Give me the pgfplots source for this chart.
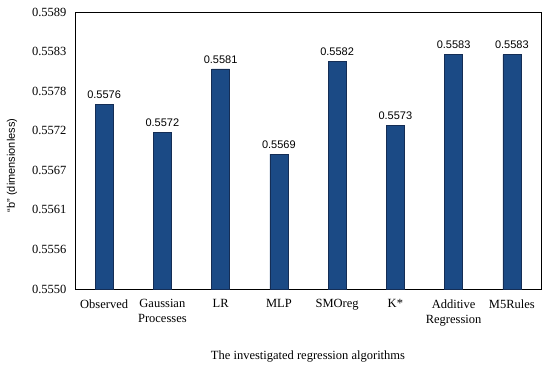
\documentclass[border=0pt]{standalone}
\usepackage{fontspec}
\setmainfont{Liberation Serif}
\newfontfamily\labfont{Liberation Sans}
\usepackage{pgfplots}
\pgfplotsset{compat=1.18}
\definecolor{barblue}{RGB}{27,74,133}
\definecolor{baredge}{RGB}{20,45,85}
\begin{document}
\begin{tikzpicture}
\begin{axis}[
  scale only axis,
  width=466pt, height=277pt,
  xmin=-0.5, xmax=7.5,
  ymin=0.555, ymax=0.5589,
  ytick={0.555,0.5555571,0.5561143,0.5566714,0.5572286,0.5577857,0.5583429,0.5589},
  yticklabels={0.5550,0.5556,0.5561,0.5567,0.5572,0.5578,0.5583,0.5589},
  xtick={0,...,7},
  xticklabels={Observed,Gaussian\\Processes,LR,MLP,SMOreg,K*,Additive\\Regression,M5Rules},
  xticklabel style={align=center, font=\fontsize{12.5}{15}\selectfont, yshift=-7pt},
  yticklabel style={font=\fontsize{12.5}{14}\selectfont, xshift=-5pt},
  major tick length=0pt,
  axis line style={black, line width=0.9pt},
  ybar, bar width=0.31,
  point meta=explicit symbolic,
  nodes near coords,
  nodes near coords style={font=\labfont\fontsize{11}{13}\selectfont, black, yshift=2pt},
  xlabel={The investigated regression algorithms},
  xlabel style={font=\fontsize{12.5}{15}\selectfont, yshift=-18pt},
  ylabel={“b” (dimensionless)},
  ylabel style={font=\labfont\fontsize{11}{13}\selectfont, yshift=8pt, xshift=-15pt},
  clip=false,
]
\addplot[fill=barblue, draw=baredge, line width=0.6pt] coordinates {
  (0,0.5576) [0.5576]
  (1,0.5572) [0.5572]
  (2,0.5581) [0.5581]
  (3,0.5569) [0.5569]
  (4,0.5582) [0.5582]
  (5,0.5573) [0.5573]
  (6,0.5583) [0.5583]
  (7,0.5583) [0.5583]
};
\end{axis}
\path ([shift={(-75pt,-81pt)}]current axis.south west) rectangle ([shift={(9pt,12pt)}]current axis.north east);
\end{tikzpicture}
\end{document}
